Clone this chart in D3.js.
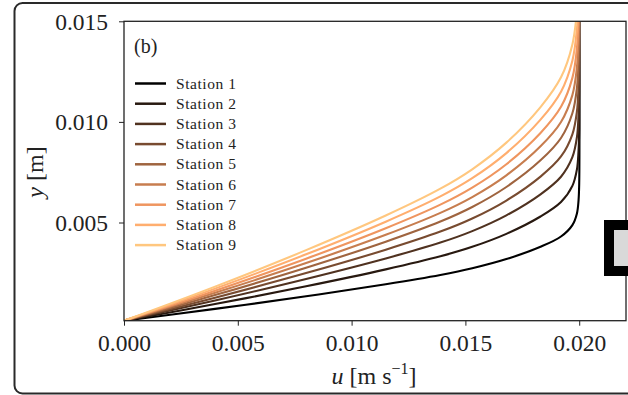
<!DOCTYPE html>
<html>
<head>
<meta charset="utf-8">
<script src="https://cdn.jsdelivr.net/npm/d3@7/dist/d3.min.js"></script>
<style>
  html, body { margin: 0; padding: 0; background: #ffffff; }
  svg { display: block; }
  text { font-family: "Liberation Serif", "DejaVu Serif", serif; fill: #222; }
</style>
</head>
<body>
<svg id="chart" width="628" height="395"></svg>
<script>
// Velocity profiles u(y) at nine stations; all curves share the u samples below.
const stationNames = ["Station 1", "Station 2", "Station 3", "Station 4", "Station 5",
                      "Station 6", "Station 7", "Station 8", "Station 9"];
const uSamples = [0, 0.004, 0.008, 0.0115, 0.0139, 0.0153, 0.0168, 0.0183, 0.0192, 0.0197, 0.0199, 0.01997, 0.0200, 0.0200];
const yStation1 = [0.00012, 0.000706, 0.001333, 0.001929, 0.002391, 0.002724, 0.003182, 0.003793, 0.004305, 0.004871, 0.005453, 0.006089, 0.006924, 0.0152];
const yStation2 = [0.00012, 0.000946, 0.001830, 0.002671, 0.003322, 0.003792, 0.004437, 0.005299, 0.006021, 0.006819, 0.007640, 0.008536, 0.009714, 0.0152];
const yStation3 = [0.00012, 0.001122, 0.002194, 0.003213, 0.004003, 0.004573, 0.005356, 0.006401, 0.007276, 0.008244, 0.009239, 0.010327, 0.011755, 0.0152];
const yStation4 = [0.00012, 0.001263, 0.002485, 0.003648, 0.004548, 0.005198, 0.006091, 0.007282, 0.008281, 0.009384, 0.010519, 0.011760, 0.013388, 0.0152];
const yStation5 = [0.00012, 0.001392, 0.002752, 0.004046, 0.005048, 0.005771, 0.006765, 0.008090, 0.009201, 0.010430, 0.011693, 0.013073, 0.014885, 0.0160];
const yStation6 = [0.00012, 0.001503, 0.002983, 0.004389, 0.005480, 0.006265, 0.007346, 0.008788, 0.009997, 0.011332, 0.012706, 0.014207, 0.016177];
const yStation7 = [0.00012, 0.001608, 0.003201, 0.004715, 0.005888, 0.006734, 0.007897, 0.009450, 0.010750, 0.012188, 0.013666, 0.015281];
const yStation8 = [0.00012, 0.001714, 0.003419, 0.005040, 0.006297, 0.007203, 0.008449, 0.010111, 0.011503, 0.013043, 0.014626, 0.016356];
const yStation9 = [0.00012, 0.001814, 0.003626, 0.005348, 0.006683, 0.007646, 0.008969, 0.010735, 0.012215, 0.013850, 0.015532];
const stationY = [yStation1, yStation2, yStation3, yStation4, yStation5,
                  yStation6, yStation7, yStation8, yStation9];
const xTicks = [0.000, 0.005, 0.010, 0.015, 0.020];
const yTicks = [0.005, 0.010, 0.015];
// copper colormap, dark to light
const stationColors = ["#000000", "#281910", "#503220", "#784b30", "#9f643f",
                       "#c77d4f", "#ef955f", "#ffae6f", "#ffc77f"];

const svg = d3.select("#chart");
const plot = { left: 124, right: 626, top: 21.3, bottom: 320.7 };

const x = d3.scaleLinear().domain([0, 0.022056]).range([plot.left, plot.right]);
const y = d3.scaleLinear().domain([0.00012, 0.015]).range([plot.bottom, plot.top]);

// outer panel frame
svg.append("rect")
  .attr("x", 14.5).attr("y", 3).attr("width", 640).attr("height", 390.5)
  .attr("rx", 8).attr("ry", 8)
  .attr("fill", "none").attr("stroke", "#2a2a2a").attr("stroke-width", 2);

svg.append("clipPath").attr("id", "plotclip")
  .append("rect")
  .attr("x", plot.left).attr("y", plot.top)
  .attr("width", plot.right - plot.left).attr("height", plot.bottom - plot.top);

// profiles
const line = d3.line()
  .x(d => x(d[0]))
  .y(d => y(d[1]))
  .curve(d3.curveCatmullRom.alpha(0.5));

const curves = svg.append("g").attr("clip-path", "url(#plotclip)");
stationY.forEach((ys, i) => {
  const pts = ys.map((v, k) => [uSamples[k], v]);
  curves.append("path")
    .attr("d", line(pts))
    .attr("fill", "none")
    .attr("stroke", stationColors[i])
    .attr("stroke-width", 2.1)
    .attr("stroke-linejoin", "round");
});

// axes
const xAxis = svg.append("g")
  .attr("transform", `translate(0,${plot.bottom})`)
  .call(d3.axisBottom(x).tickValues(xTicks).tickFormat(d3.format(".3f")).tickSize(5).tickPadding(7));
const yAxis = svg.append("g")
  .attr("transform", `translate(${plot.left},0)`)
  .call(d3.axisLeft(y).tickValues(yTicks).tickFormat(d3.format(".3f")).tickSize(5).tickPadding(11));

[xAxis, yAxis].forEach(g => {
  g.select(".domain").remove();
  g.selectAll(".tick line").attr("stroke", "#222").attr("stroke-width", 1);
  g.selectAll(".tick text")
    .attr("fill", "#222")
    .style("font-family", "'Liberation Serif', serif")
    .style("font-size", "23.5px");
});
xAxis.selectAll(".tick text").attr("dy", "0.8em");
yAxis.selectAll(".tick text").attr("dy", "0.34em");

// plot frame
svg.append("rect")
  .attr("x", plot.left).attr("y", plot.top)
  .attr("width", plot.right - plot.left).attr("height", plot.bottom - plot.top)
  .attr("fill", "none").attr("stroke", "#222").attr("stroke-width", 1.3);

// axis labels
const xLabel = svg.append("text")
  .attr("x", 374).attr("y", 384)
  .attr("text-anchor", "middle")
  .style("font-size", "24px");
xLabel.append("tspan").style("font-style", "italic").text("u");
xLabel.append("tspan").attr("dx", 6).text("[m s");
xLabel.append("tspan").attr("dy", -10).style("font-size", "16px").text("−1");
xLabel.append("tspan").attr("dy", 10).text("]");

const yLabel = svg.append("text")
  .attr("transform", "translate(43,172) rotate(-90)")
  .attr("text-anchor", "middle")
  .style("font-size", "24px");
yLabel.append("tspan").style("font-style", "italic").text("y");
yLabel.append("tspan").attr("dx", 6).text("[m]");

// panel tag
svg.append("text")
  .attr("x", 134).attr("y", 53)
  .style("font-size", "20px")
  .text("(b)");

// legend
const legend = svg.append("g");
stationNames.forEach((name, i) => {
  const cy = 83.5 + i * 20.2;
  legend.append("line")
    .attr("x1", 135).attr("x2", 166).attr("y1", cy).attr("y2", cy)
    .attr("stroke", stationColors[i]).attr("stroke-width", 2.5);
  legend.append("text")
    .attr("x", 176).attr("y", cy).attr("dy", "0.33em")
    .style("font-size", "15.5px")
    .attr("textLength", 60).attr("lengthAdjust", "spacing")
    .text(name);
});

// neighbouring panel edge
svg.append("rect")
  .attr("x", 609).attr("y", 225).attr("width", 40).attr("height", 46)
  .attr("fill", "#d9d9d9").attr("stroke", "#000").attr("stroke-width", 10);
</script>
</body>
</html>
